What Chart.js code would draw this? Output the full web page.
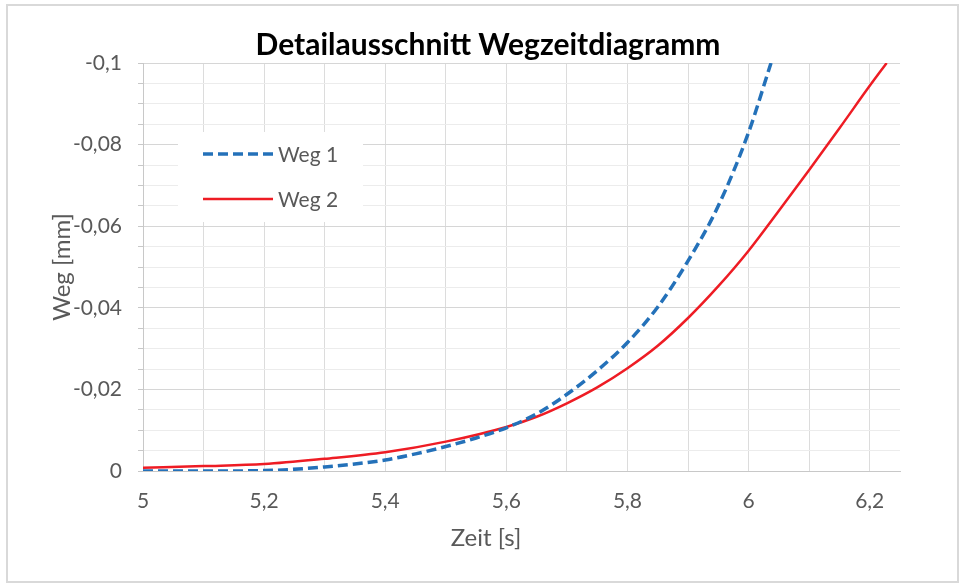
<!DOCTYPE html>
<html lang="de">
<head>
<meta charset="utf-8">
<title>Detailausschnitt Wegzeitdiagramm</title>
<script src="https://cdn.jsdelivr.net/npm/chart.js@4.4.1/dist/chart.umd.min.js"></script>
<style>
  html, body { margin: 0; padding: 0; background: #fff; }
  #wrap { position: relative; width: 964px; height: 585px; }
</style>
</head>
<body>
<div id="wrap"><canvas id="grafico" width="964" height="585"></canvas></div>
<script>
// Werte (Zeit in s, Weg in mm)
const zeitWeg1 = [5.0, 5.1, 5.2, 5.3, 5.4, 5.45, 5.5, 5.55, 5.6, 5.65, 5.7, 5.75, 5.8, 5.85, 5.9, 5.95, 6.0, 6.037];
const weg1     = [0, 0, -0.0001, -0.001, -0.0027, -0.0042, -0.006, -0.0081, -0.0106, -0.014, -0.0188, -0.0246, -0.0315, -0.0402, -0.0515, -0.065, -0.083, -0.1];

const zeitWeg2 = [5.0, 5.1, 5.2, 5.3, 5.4, 5.5, 5.6, 5.65, 5.7, 5.75, 5.8, 5.85, 5.9, 5.95, 6.0, 6.05, 6.1, 6.15, 6.2, 6.228];
const weg2     = [-0.0008, -0.0012, -0.0017, -0.003, -0.0046, -0.0072, -0.0108, -0.0133, -0.0166, -0.0205, -0.0252, -0.0307, -0.0375, -0.0453, -0.054, -0.0638, -0.0738, -0.084, -0.0944, -0.1];

// Gitterlinien und beschriftete Ticks
const xGitter = [5, 5.1, 5.2, 5.3, 5.4, 5.5, 5.6, 5.7, 5.8, 5.9, 6, 6.1, 6.2];
const xTicksBeschriftet = [5, 5.2, 5.4, 5.6, 5.8, 6, 6.2];
const yTicksBeschriftet = [0, -0.02, -0.04, -0.06, -0.08, -0.1];

const serienNamen = ['Weg 1', 'Weg 2'];
const titel = 'Detailausschnitt Wegzeitdiagramm';
const xTitel = 'Zeit [s]';
const yTitel = 'Weg [mm]';

const FONT = 'Lato, "Open Sans", sans-serif';
const GRAU = '#595959';

function komma(v){
  return String(Number(v.toFixed(4))).replace('.', ',');
}
function istIn(liste, v){
  return liste.some(t => Math.abs(t - v) < 1e-6);
}

// Rahmen um das ganze Diagramm
const rahmenPlugin = {
  id: 'rahmen',
  beforeDraw(chart){
    const ctx = chart.ctx;
    ctx.save();
    ctx.fillStyle = '#fff';
    ctx.fillRect(0, 0, chart.width, chart.height);
    ctx.strokeStyle = '#d9d9d9';
    ctx.lineWidth = 2;
    ctx.strokeRect(7, 5, 951, 577);
    ctx.restore();
  }
};

// Titel und x-Achsentitel (wie in Excel leicht links von der Mitte)
const textePlugin = {
  id: 'texte',
  afterDraw(chart){
    const ctx = chart.ctx;
    ctx.save();
    ctx.textAlign = 'center';
    ctx.textBaseline = 'middle';
    ctx.fillStyle = '#000';
    ctx.font = 'bold 30px ' + FONT;
    ctx.fillText(titel, 488, 45);
    ctx.fillStyle = GRAU;
    ctx.font = '24px ' + FONT;
    ctx.fillText(xTitel, 486, 538);
    ctx.restore();
  }
};

// Legende innerhalb der Zeichenfläche
const legendePlugin = {
  id: 'legendeInnen',
  afterDatasetsDraw(chart){
    const ctx = chart.ctx;
    const a = chart.chartArea;
    const x0 = a.left + 35, y0 = a.top + 69;
    ctx.save();
    ctx.fillStyle = '#fff';
    ctx.fillRect(x0, y0, 185, 90);
    ctx.font = '21px ' + FONT;
    ctx.textBaseline = 'middle';
    chart.data.datasets.forEach((ds, i) => {
      const y = y0 + 22 + i * 45;
      ctx.strokeStyle = ds.borderColor;
      ctx.lineWidth = ds.borderWidth;
      ctx.setLineDash(ds.borderDash || []);
      ctx.beginPath();
      ctx.moveTo(x0 + 25, y);
      ctx.lineTo(x0 + 95, y);
      ctx.stroke();
      ctx.setLineDash([]);
      ctx.fillStyle = GRAU;
      ctx.fillText(ds.label, x0 + 100, y + 1);
    });
    ctx.restore();
  }
};

const ctx = document.getElementById('grafico').getContext('2d');
const chart = new Chart(ctx, {
  type: 'line',
  data: {
    datasets: [
      {
        label: serienNamen[0],
        data: zeitWeg1.map((t, i) => ({ x: t, y: weg1[i] })),
        borderColor: '#2471b9',
        borderWidth: 3.5,
        borderDash: [10, 5],
        pointRadius: 0,
        cubicInterpolationMode: 'monotone',
        fill: false
      },
      {
        label: serienNamen[1],
        data: zeitWeg2.map((t, i) => ({ x: t, y: weg2[i] })),
        borderColor: '#ee1c24',
        borderWidth: 2.5,
        pointRadius: 0,
        cubicInterpolationMode: 'monotone',
        fill: false
      }
    ]
  },
  options: {
    responsive: false,
    animation: false,
    layout: { padding: { left: 44, right: 64, top: 63, bottom: 30 } },
    plugins: {
      legend: { display: false },
      tooltip: { enabled: false },
      title: { display: false }
    },
    scales: {
      x: {
        type: 'linear',
        min: 5,
        max: 6.25,
        afterBuildTicks(scale){
          scale.ticks = xGitter.map(v => ({ value: v }));
        },
        afterFit(scale){ scale.height = 555 - 471; },
        ticks: {
          autoSkip: false,
          maxRotation: 0,
          padding: 18,
          color: GRAU,
          font: { family: FONT, size: 21 },
          callback: v => istIn(xTicksBeschriftet, v) ? komma(v) : ''
        },
        grid: { color: '#dcdcdc', lineWidth: 1, drawTicks: false },
        border: { color: '#c8c8c8', width: 1 }
      },
      y: {
        type: 'linear',
        min: -0.1,
        max: 0,
        reverse: true,
        afterFit(scale){ scale.width = 143 - 44; },
        ticks: {
          stepSize: 0.005,
          autoSkip: false,
          padding: 16,
          color: GRAU,
          font: { family: FONT, size: 21 },
          callback: v => istIn(yTicksBeschriftet, v) ? komma(v) : ''
        },
        grid: {
          color: c => istIn(yTicksBeschriftet, c.tick.value) ? '#d6d6d6' : '#ececec',
          tickColor: '#c8c8c8',
          tickLength: 5,
          lineWidth: 1
        },
        border: { color: '#c8c8c8', width: 1 },
        title: {
          display: true,
          text: yTitel,
          color: GRAU,
          font: { family: FONT, size: 24 },
          padding: { top: 4, bottom: 0 }
        }
      }
    }
  },
  plugins: [rahmenPlugin, legendePlugin, textePlugin]
});
</script>
</body>
</html>
